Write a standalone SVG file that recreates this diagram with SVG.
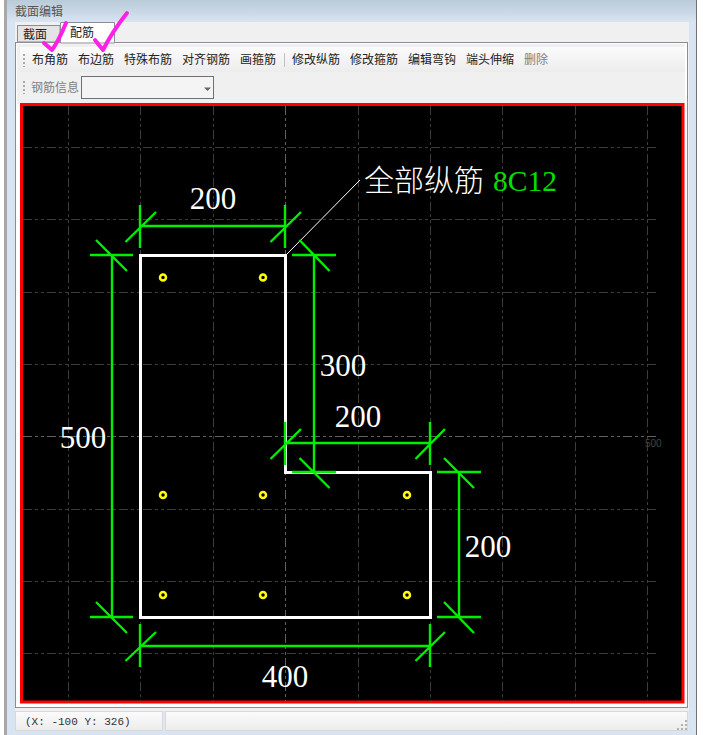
<svg xmlns="http://www.w3.org/2000/svg" width="703" height="735" viewBox="0 0 703 735">
<defs>
<linearGradient id="top" x1="0" y1="0" x2="0" y2="1"><stop offset="0" stop-color="#b9cad9"/><stop offset="1" stop-color="#d8e4f1"/></linearGradient>
<linearGradient id="bar" x1="0" y1="0" x2="0" y2="1"><stop offset="0" stop-color="#fbfbfb"/><stop offset="1" stop-color="#ececec"/></linearGradient>
</defs>
<style>
.ui{font-family:"Noto Sans CJK SC","Liberation Sans",sans-serif;font-size:12px;fill:#222}
.off{fill:#808080}
.grid{stroke:#3c3c3c;stroke-width:1;stroke-dasharray:9 3 3 3 3 3;fill:none}
.axis{stroke:#626262}
.dim{stroke:#00ee00;stroke-width:2.400;fill:none}
.big{font-family:"Liberation Serif",serif;font-size:31px;fill:#fff}
.bar{fill:#00e000;font-size:29.500px}
.bar2{fill:#fff;font-family:"Noto Sans CJK SC",serif;font-size:30px;font-weight:300}
.rebar{fill:none;stroke:#ffff00;stroke-width:2.500}
.check{fill:none;stroke:#ff20e8;stroke-width:4;stroke-linecap:round;stroke-linejoin:round}
</style>

<g id="window">
<rect width="703" height="735" fill="#fff"/>
<rect x="4" width="3" height="735" fill="#a8a8a8"/>
<rect x="7" width="689" height="735" fill="#d8e4f1"/>
<rect x="7" width="689" height="22" fill="url(#top)"/>
<rect x="696" width="1" height="735" fill="#707070"/>
<text x="15" y="16" class="ui" style="fill:#555">截面编辑</text>
<rect x="15" y="22" width="674" height="689" fill="#f0f0f0"/>
<rect x="15.500" y="42.500" width="672" height="665" fill="#fff" stroke="#8c8c96"/>
<rect x="17" y="44" width="668" height="60" fill="#f0f0f0"/>
</g>

<g id="tabs">
<path d="M17.500 42V25.500H60V42Z" fill="#e4e4e4" stroke="#8c8c96"/>
<text x="23" y="39" class="ui">截面</text>
<path d="M60.500 43V22.500H114.500V43Z" fill="#fff" stroke="#8c8c96"/>
<text x="70" y="37" class="ui">配筋</text>
</g>

<g id="toolbar">
<rect x="20" y="47" width="665" height="25" fill="url(#bar)"/>
<path d="M24 54V67" stroke="#aaa" stroke-width="2" stroke-dasharray="2 2"/>
<text x="32" y="64" class="ui">布角筋</text>
<text x="78" y="64" class="ui">布边筋</text>
<text x="124" y="64" class="ui">特殊布筋</text>
<text x="182" y="64" class="ui">对齐钢筋</text>
<text x="240" y="64" class="ui">画箍筋</text>
<path d="M284.500 53V67" stroke="#c0c0c0"/>
<text x="292" y="64" class="ui">修改纵筋</text>
<text x="350" y="64" class="ui">修改箍筋</text>
<text x="408" y="64" class="ui">编辑弯钩</text>
<text x="466" y="64" class="ui">端头伸缩</text>
<text x="524" y="64" class="ui off">删除</text>
<path d="M24 81V94" stroke="#aaa" stroke-width="2" stroke-dasharray="2 2"/>
<text x="31" y="92" class="ui off">钢筋信息</text>
<rect x="81.500" y="76.500" width="132" height="22" fill="#f4f4f4" stroke="#707070"/>
<path d="M204 87.500h7l-3.500 3.500Z" fill="#666"/>
</g>

<g id="canvas">
<rect x="21.500" y="104.500" width="661.500" height="597.500" fill="#000" stroke="#ff0000" stroke-width="3"/>
<g class="grid">
<path d="M68.500 106V701M140.500 106V701M213.500 106V701M358.500 106V701M430.500 106V701M502.500 106V701M575.500 106V701M647.500 106V701"/>
<path d="M23 147.500H657M23 219.500H657M23 292.500H657M23 364.500H657M23 509.500H657M23 581.500H657M23 653.500H657"/>
<path class="axis" d="M285.500 106V701M23 436.500H657"/>
</g>
<text x="645" y="447" style="font-family:'Liberation Sans',sans-serif;font-size:10px;fill:#444">500</text>
</g>

<g id="section">
<path d="M140.500 255.500H285.500V472.500H430.500V617.500H140.500Z" fill="none" stroke="#fff" stroke-width="3"/>
<g id="rebars" class="rebar">
<circle cx="163" cy="277.500" r="3"/><circle cx="263" cy="277.500" r="3"/>
<circle cx="163" cy="495" r="3"/><circle cx="263" cy="495" r="3"/><circle cx="407" cy="495" r="3"/>
<circle cx="163" cy="595" r="3"/><circle cx="263" cy="595" r="3"/><circle cx="407" cy="595" r="3"/>
</g>
</g>

<g id="connectors">
<path d="M287 254L360 180" stroke="#fff" stroke-width="1" fill="none"/>
<g class="dim">
<path d="M140 226H285M140 205V248M285 205V248M125.500 242L156 212M270.500 242L301 212"/>
<path d="M112 255V617M90 255H133M90 617H133M96 240L127 271M96 602L127 633"/>
<path d="M314 255V472M292 255H336M292 472H336M299.500 240L329.500 271M299.500 458L329.500 488"/>
<path d="M285 443H430M285 422V465M430 422V465M270.500 459L301 429M415.500 459L445 429"/>
<path d="M459 472V617M437 472H481M437 617H481M444 458L474 488M444 602L474 633"/>
<path d="M140 646H430M140 624V667M430 624V667M125.500 661L156 632M415.500 661L445 632"/>
</g>
</g>

<g id="labels">
<text x="213" y="209" text-anchor="middle" class="big">200</text>
<text x="83" y="448" text-anchor="middle" class="big">500</text>
<text x="343" y="376" text-anchor="middle" class="big">300</text>
<text x="358" y="427" text-anchor="middle" class="big">200</text>
<text x="488" y="557" text-anchor="middle" class="big">200</text>
<text x="285" y="687" text-anchor="middle" class="big">400</text>
<text x="364" y="191" class="bar2">全部纵筋</text>
<text x="493" y="191" class="big bar">8C12</text>
</g>

<g id="statusbar">
<rect x="15" y="711" width="674" height="20" fill="#dfe8f2"/>
<rect x="15.500" y="711.500" width="147" height="19" fill="url(#bar)" stroke="#d8d8d8"/>
<rect x="165.500" y="711.500" width="522" height="19" fill="url(#bar)" stroke="#d8d8d8"/>
<text x="25" y="725" style="font-family:'Liberation Mono',monospace;font-size:11px;fill:#333">(X: -100 Y: 326)</text>
<path d="M685 720h2v2h-2zM681 724h2v2h-2zM685 724h2v2h-2zM677 728h2v2h-2zM681 728h2v2h-2zM685 728h2v2h-2z" fill="#b0b0b0"/>
</g>

<g id="checks">
<path class="check" d="M44 43L52 50Q58 42 66 23"/>
<path class="check" d="M95 40L103 50Q112 32 127 13"/>
</g>
</svg>
